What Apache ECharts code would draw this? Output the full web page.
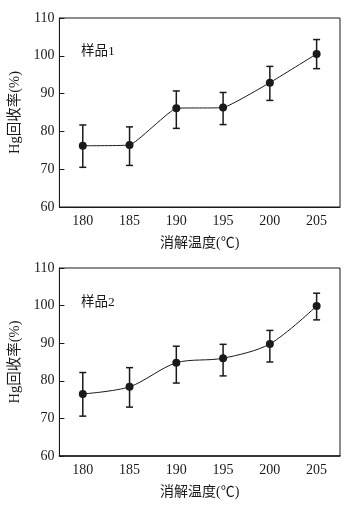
<!DOCTYPE html>
<html>
<head>
<meta charset="utf-8">
<script src="https://cdn.jsdelivr.net/npm/echarts@6/dist/echarts.min.js"></script>
<style>html,body{margin:0;padding:0;background:#fff}#c{width:357px;height:509px}</style>
</head>
<body>
<div id="c"></div>
<script>
const categories = ['180', '185', '190', '195', '200', '205'];
const yTicks = [60, 70, 80, 90, 100, 110];

const sample1Mean = [76.2, 76.4, 86.1, 86.3, 92.9, 100.5];
const sample1Low  = [70.5, 71.0, 80.8, 81.8, 88.2, 96.6];
const sample1High = [81.7, 81.2, 90.7, 90.3, 97.2, 104.3];

const sample2Mean = [76.5, 78.4, 84.8, 86.0, 89.8, 99.9];
const sample2Low  = [70.6, 73.0, 79.4, 81.3, 85.0, 96.2];
const sample2High = [82.2, 83.5, 89.2, 89.7, 93.4, 103.3];

const sampleNames = ['样品1', '样品2'];
const xName = '消解温度(℃)';
const yName = 'Hg回收率(%)';

const FONT = '"Liberation Serif", "Noto Sans CJK SC", serif';
const INK = '#1a1a1a';

const chart = echarts.init(document.getElementById('c'), null, {renderer: 'canvas'});

const grids = [
  {left: 55, right: 17, top: 18, height: 189},
  {left: 55, right: 17, top: 268, height: 188}
];

function xAxis(i, w) {
  return {
    type: 'category', gridIndex: i, data: categories, boundaryGap: true,
    name: xName, nameLocation: 'middle', nameGap: 29,
    nameTextStyle: {fontFamily: FONT, fontSize: 14, color: INK},
    axisLine: {lineStyle: {color: INK, width: w}},
    axisTick: {inside: true, length: 4, lineStyle: {color: INK}},
    axisLabel: {fontFamily: FONT, fontSize: 14, color: INK, margin: 7},
    splitLine: {show: false}
  };
}
function yAxis(i) {
  return {
    type: 'value', gridIndex: i, min: yTicks[0], max: yTicks[yTicks.length - 1], interval: 10,
    name: yName, nameLocation: 'middle', nameGap: 32,
    nameTextStyle: {fontFamily: FONT, fontSize: 14.5, color: INK},
    axisLine: {show: true, lineStyle: {color: INK, width: 1}},
    axisTick: {show: true, inside: true, length: 5, lineStyle: {color: INK}},
    axisLabel: {fontFamily: FONT, fontSize: 14, color: INK, margin: 5},
    splitLine: {show: false}
  };
}

function errorSeries(i, low, high) {
  return {
    type: 'custom', xAxisIndex: i, yAxisIndex: i, z: 3,
    data: low.map((l, k) => [k, l, high[k]]),
    renderItem: function (params, api) {
      const lo = api.coord([api.value(0), api.value(1)]);
      const hi = api.coord([api.value(0), api.value(2)]);
      const hw = 3.5;
      const st = {stroke: INK, lineWidth: 1.5};
      return {type: 'group', children: [
        {type: 'line', shape: {x1: lo[0], y1: lo[1], x2: hi[0], y2: hi[1]}, style: st},
        {type: 'line', shape: {x1: lo[0] - hw, y1: lo[1], x2: lo[0] + hw, y2: lo[1]}, style: st},
        {type: 'line', shape: {x1: hi[0] - hw, y1: hi[1], x2: hi[0] + hw, y2: hi[1]}, style: st}
      ]};
    }
  };
}
function lineSeries(i, mean, smooth) {
  return {
    type: 'line', xAxisIndex: i, yAxisIndex: i, data: mean, smooth: smooth, z: 4,
    symbol: 'circle', symbolSize: 8,
    itemStyle: {color: INK},
    lineStyle: {color: INK, width: 1}
  };
}

chart.setOption({
  animation: false,
  backgroundColor: '#fff',
  grid: grids.map(g => Object.assign({show: true, borderColor: INK, borderWidth: 1, backgroundColor: 'transparent'}, g)),
  xAxis: [xAxis(0, 1), xAxis(1, 1.5)],
  yAxis: [yAxis(0), yAxis(1)],
  graphic: [
    {type: 'text', left: 81, top: 45, style: {text: sampleNames[0], font: '13.5px ' + FONT, fill: INK}},
    {type: 'text', left: 81, top: 296, style: {text: sampleNames[1], font: '13.5px ' + FONT, fill: INK}}
  ],
  series: [
    errorSeries(0, sample1Low, sample1High),
    lineSeries(0, sample1Mean, 0.12),
    errorSeries(1, sample2Low, sample2High),
    lineSeries(1, sample2Mean, 0.3)
  ]
});
</script>
</body>
</html>
